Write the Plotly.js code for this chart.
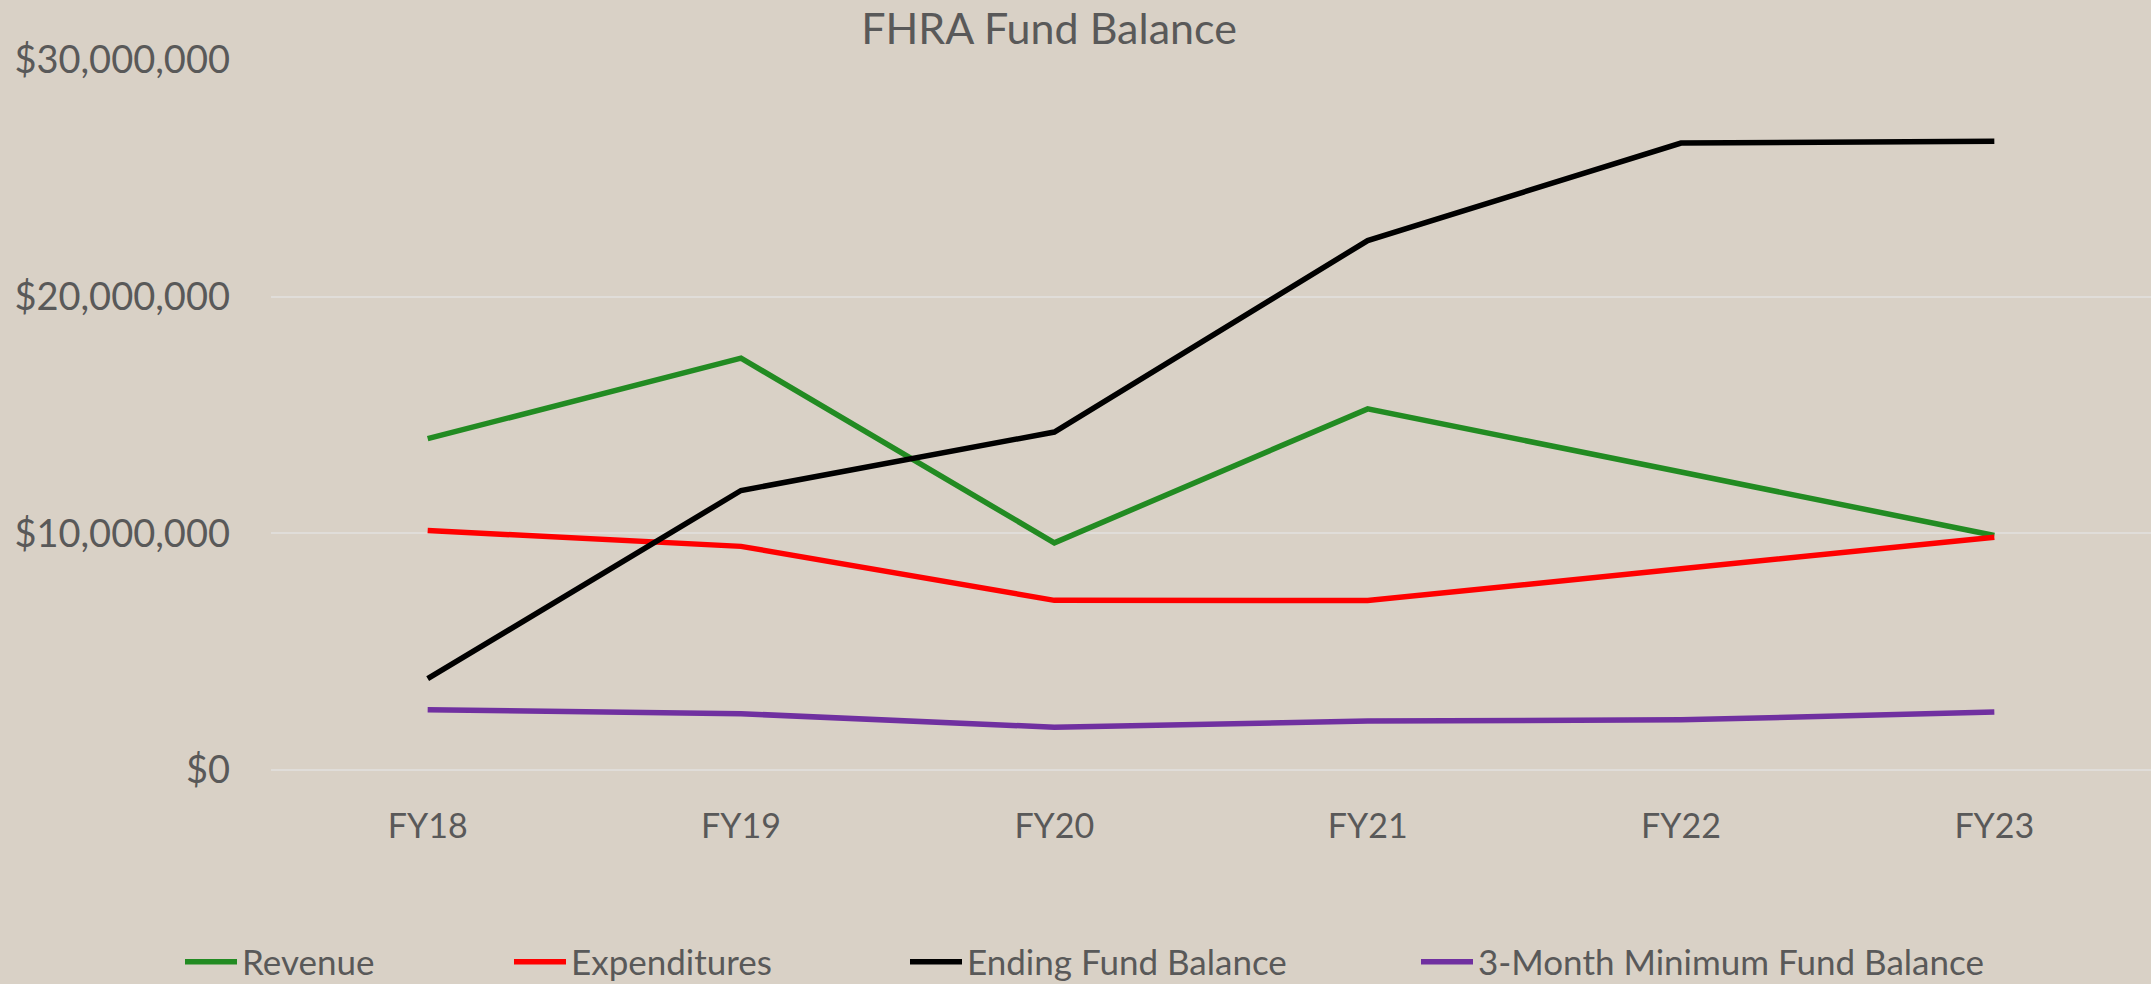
<!DOCTYPE html>
<html>
<head>
<meta charset="utf-8">
<script src="https://cdn.plot.ly/plotly-3.0.1.min.js"></script>
<style>
  html, body { margin: 0; padding: 0; background: #D9D1C6; }
  #chart { width: 2151px; height: 984px; }
</style>
</head>
<body>
<div id="chart"></div>
<script>
const categories = ["FY18", "FY19", "FY20", "FY21", "FY22", "FY23"];
const revenue = [14000000, 17400000, 9600000, 15260000, 12590000, 9910000];
const expenditures = [10120000, 9450000, 7170000, 7160000, 8500000, 9840000];
const endingFundBalance = [3860000, 11810000, 14280000, 22370000, 26490000, 26560000];
const minFundBalance = [2550000, 2380000, 1810000, 2070000, 2120000, 2450000];
const seriesNames = ["Revenue", "Expenditures", "Ending Fund Balance", "3-Month Minimum Fund Balance"];

const FONT = 'Lato, "Open Sans", sans-serif';
const TXT = '#595959';
const GRID = '#E0DDD9';
const colors = ['#228B22', '#FF0000', '#000000', '#7030A0'];
const values = [revenue, expenditures, endingFundBalance, minFundBalance];
const legendIds = ['legend', 'legend2', 'legend3', 'legend4'];
const legendX = [180, 509, 905, 1416];

const traces = values.map((v, i) => ({
  type: 'scatter', mode: 'lines', x: categories, y: v, name: seriesNames[i],
  line: { color: colors[i], width: 5.5 }, legend: legendIds[i], hoverinfo: 'x+y+name'
}));

const layout = {
  width: 2151, height: 984,
  paper_bgcolor: '#D9D1C6', plot_bgcolor: '#D9D1C6',
  margin: { l: 271, r: 0, t: 59, b: 213 },
  title: { text: 'FHRA Fund Balance', x: 1049 / 2151, xanchor: 'center', xref: 'container',
           y: 1 - 29 / 984, yanchor: 'middle', yref: 'container',
           font: { family: FONT, size: 43, color: TXT } },
  xaxis: { type: 'category', range: [-0.5, 5.5], showgrid: false, zeroline: false, showline: false,
           ticks: '', ticklabelstandoff: 32, tickfont: { family: FONT, size: 34, color: TXT } },
  yaxis: { range: [-40000, 30040000], dtick: 10000000, tick0: 0, tickformat: '$,.0f',
           showgrid: true, gridcolor: GRID, gridwidth: 2,
           zeroline: true, zerolinecolor: GRID, zerolinewidth: 2, showline: false,
           ticks: '', ticklabelstandoff: 40, tickfont: { family: FONT, size: 38, color: TXT } },
  showlegend: true
};
legendIds.forEach((id, i) => {
  layout[id] = { orientation: 'h', xref: 'container', yref: 'container',
    x: legendX[i] / 2151, xanchor: 'left', y: 1 - 962 / 984, yanchor: 'middle',
    bgcolor: 'rgba(0,0,0,0)', borderwidth: 0, itemwidth: 52,
    font: { family: FONT, size: 35, color: TXT } };
});

Plotly.newPlot('chart', traces, layout, { displayModeBar: false, staticPlot: true });
</script>
</body>
</html>
